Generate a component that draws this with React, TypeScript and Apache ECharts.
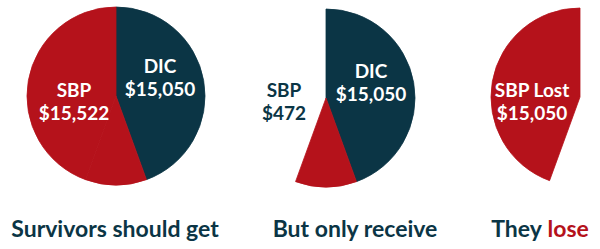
import React, { useEffect, useRef } from "react";
import * as echarts from "echarts";

const sliceNames = ["DIC", "SBP received", "SBP lost"];
const sliceValues = [15050, 472, 15050];
const pieTitles = ["Survivors should get", "But only receive", "They lose"];

const NAVY = "#0B3545";
const RED = "#B5121B";
const CLEAR = "rgba(0,0,0,0)";
const FONT = "Lato, 'Open Sans', sans-serif";

const fmt = (v: number) => "$" + v.toLocaleString("en-US");

export default function App() {
  const ref = useRef<HTMLDivElement>(null);
  useEffect(() => {
    if (!ref.current) return;
    const chart = echarts.init(ref.current, undefined, { renderer: "svg" });
    const [dic, received, lost] = sliceValues;
    const should = received + lost;

    const pie = (center: [number, number], colors: string[]) => ({
      type: "pie",
      center,
      radius: 89,
      startAngle: 90,
      clockwise: true,
      minAngle: 40,
      silent: true,
      z: 1,
      label: { show: false },
      labelLine: { show: false },
      data: sliceNames.map((n, i) => ({
        name: n,
        value: sliceValues[i],
        itemStyle: {
          color: colors[i],
          borderColor: colors[i],
          borderWidth: colors[i] === CLEAR ? 0 : 0.8,
        },
      })),
    });

    const label = (x: number, y: number, lines: string[], fill: string) => ({
      type: "text",
      x,
      y,
      z: 100,
      silent: true,
      style: {
        text: lines.join("\n"),
        fill,
        font: `bold 19px ${FONT}`,
        lineHeight: 23,
        align: "center",
        verticalAlign: "middle",
      },
    });

    const title = (x: number, text: string) => ({
      type: "text",
      x,
      y: 228,
      z: 100,
      silent: true,
      style: {
        text,
        fill: NAVY,
        font: `bold 23px ${FONT}`,
        align: "center",
        verticalAlign: "middle",
        rich: {
          a: { fill: NAVY, font: `bold 23px ${FONT}` },
          b: { fill: RED, font: `bold 23px ${FONT}` },
        },
      },
    });

    chart.setOption({
      animation: false,
      series: [
        pie([116, 96], [NAVY, RED, RED]),
        pie([326, 98], [NAVY, RED, CLEAR]),
        pie([580, 97], [CLEAR, CLEAR, RED]),
      ],
      graphic: {
        elements: [
          label(74, 101, ["SBP", fmt(should)], "#fff"),
          label(160, 77, ["DIC", fmt(dic)], "#fff"),
          label(284, 101, ["SBP", fmt(received)], NAVY),
          label(371, 82, ["DIC", fmt(dic)], "#fff"),
          label(532, 101, ["SBP Lost", fmt(lost)], "#fff"),
          title(115, pieTitles[0]),
          title(355, pieTitles[1]),
          title(540, "{a|They} {b|lose}"),
        ],
      },
    });
    return () => chart.dispose();
  }, []);
  return (
    <div
      ref={ref}
      style={{ position: "absolute", left: 0, top: 0, width: 600, height: 249, background: "#fff" }}
    />
  );
}
